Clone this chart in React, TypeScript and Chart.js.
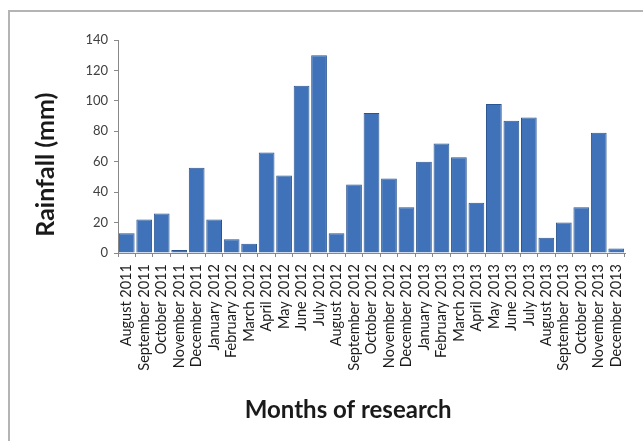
import React, { useEffect, useRef } from "react";
import { Chart, registerables } from "chart.js";

Chart.register(...registerables);

const months: string[] = [
  "August 2011", "September 2011", "October 2011", "November 2011", "December 2011",
  "January 2012", "February 2012", "March 2012", "April 2012", "May 2012", "June 2012",
  "July 2012", "August 2012", "September 2012", "October 2012", "November 2012",
  "December 2012", "January 2013", "February 2013", "March 2013", "April 2013",
  "May 2013", "June 2013", "July 2013", "August 2013", "September 2013",
  "October 2013", "November 2013", "December 2013",
];

const rainfall: number[] = [
  13, 22, 26, 2, 56, 22, 9, 6, 66, 51, 110, 130, 13, 45,
  92, 49, 30, 60, 72, 63, 33, 98, 87, 89, 10, 20, 30, 79, 3,
];

const NBSP = "\u00A0";
const yTitle = "Rainfall (mm)" + NBSP.repeat(6);
const xTitle = "Months of research" + NBSP.repeat(8);

export default function App() {
  const ref = useRef<HTMLCanvasElement | null>(null);

  useEffect(() => {
    if (!ref.current) return;
    const chart = new Chart(ref.current, {
      type: "bar",
      data: {
        labels: months,
        datasets: [
          {
            data: rainfall,
            backgroundColor: "#3F72B8",
            borderColor: "#2B5590",
            borderWidth: 1,
            barPercentage: 0.9,
            categoryPercentage: 1,
          },
        ],
      },
      options: {
        responsive: false,
        animation: false,
        layout: { padding: { left: 20, top: 40, right: 18, bottom: 0 } },
        plugins: { legend: { display: false }, tooltip: { enabled: false } },
        scales: {
          x: {
            offset: true,
            grid: { drawOnChartArea: false, tickLength: 4, color: "#888888" },
            border: { color: "#888888", width: 1 },
            ticks: {
              autoSkip: false,
              minRotation: 90,
              maxRotation: 90,
              padding: 7,
              color: "#1a1a1a",
              font: { family: "Lato", size: 14.5 },
            },
            title: {
              display: true,
              text: xTitle,
              color: "#1a1a1a",
              font: { family: "Lato", size: 24, weight: "bold" },
              padding: { top: 0, bottom: 16 },
            },
            afterFit: (s: any) => {
              s.height = 188;
            },
          },
          y: {
            min: 0,
            max: 140,
            ticks: {
              stepSize: 20,
              padding: 6,
              color: "#404040",
              font: { family: "Lato", size: 13 },
            },
            grid: { drawOnChartArea: false, tickLength: 4, color: "#888888" },
            border: { color: "#888888", width: 1 },
            title: {
              display: true,
              text: yTitle,
              color: "#1a1a1a",
              font: { family: "Lato", size: 25, weight: "bold" },
              padding: { top: 11, bottom: 0 },
            },
            afterFit: (s: any) => {
              s.width = 98;
            },
          },
        },
      },
    });
    return () => chart.destroy();
  }, []);

  return (
    <div style={{ position: "absolute", left: 0, top: 0, width: 643, height: 441, background: "#fff", overflow: "hidden" }}>
      <div
        style={{
          position: "absolute",
          left: 8,
          top: 10,
          width: 650,
          height: 450,
          borderLeft: "2px solid #b4b4b4",
          borderTop: "2px solid #b4b4b4",
        }}
      />
      <canvas ref={ref} width={643} height={441} style={{ position: "absolute", left: 0, top: 0 }} />
    </div>
  );
}
